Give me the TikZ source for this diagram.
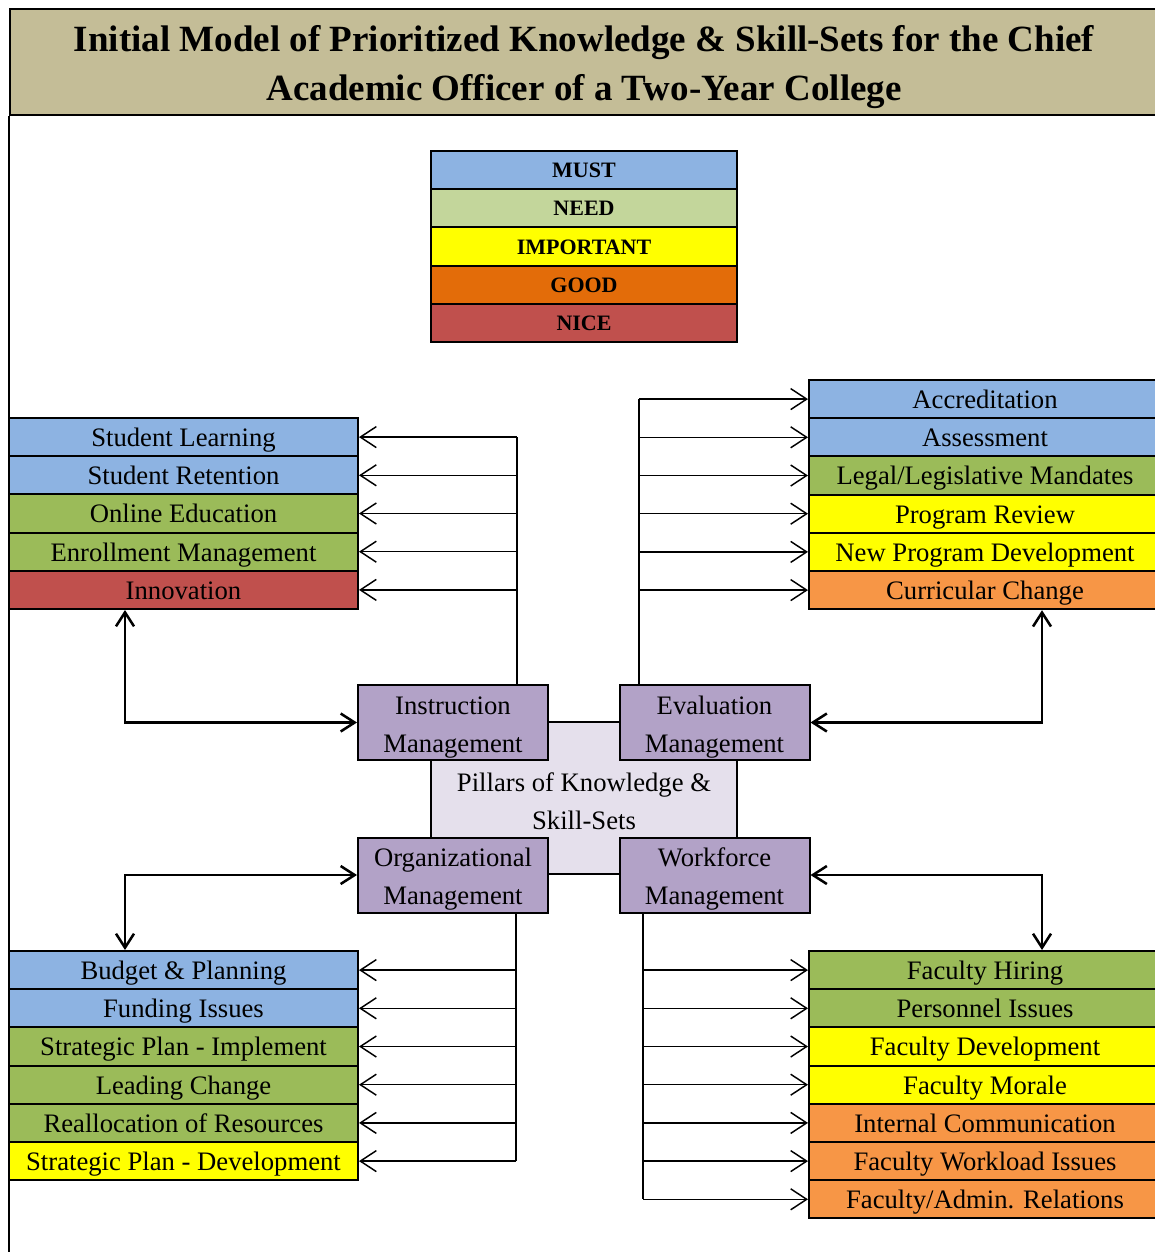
\documentclass[tikz,border=0pt]{standalone}
\usepackage{fontspec}
\setmainfont{Liberation Serif}
\usetikzlibrary{arrows.meta,calc}
\definecolor{cmust}{RGB}{141,179,226}
\definecolor{cneed}{RGB}{195,214,155}
\definecolor{cgreen}{RGB}{155,187,89}
\definecolor{cyel}{RGB}{255,255,0}
\definecolor{cgood}{RGB}{227,108,9}
\definecolor{corange}{RGB}{247,150,70}
\definecolor{cnice}{RGB}{192,80,77}
\definecolor{cpurple}{RGB}{178,162,199}
\definecolor{clav}{RGB}{229,224,236}
\definecolor{ctan}{RGB}{196,189,151}
\newcommand\pstrut{\rule{0pt}{20.5pt}}
\begin{document}
\begin{tikzpicture}[x=0.75pt,y=-0.75pt,
  rowL/.style={draw=black, line width=1.5pt, minimum width=261.75pt, minimum height=28.65pt, inner sep=0pt, text height=15pt, text depth=0.8pt, font=\fontsize{20}{24}\selectfont},
  rowR/.style={rowL, minimum width=264pt},
  leg/.style={draw=black, line width=1.5pt, minimum width=229.5pt, minimum height=28.65pt, inner sep=0pt, text height=12pt, text depth=0.5pt, font=\bfseries\fontsize{16.5}{20}\selectfont},
  pillar/.style={draw=black, fill=cpurple, line width=1.5pt, minimum width=142.5pt, minimum height=56.25pt, inner sep=0pt, align=center, font=\fontsize{20}{28.5}\selectfont},
  trunk/.style={line width=1.1pt},
  arr/.style={line width=1.1pt, -{Straight Barb[length=12pt,width=15.75pt]}},
  darr/.style={line width=1.9pt, {Straight Barb[length=10.5pt,width=13.5pt]}-{Straight Barb[length=10.5pt,width=13.5pt]}}
]
\clip (0,0) rectangle (1155,1252);
% frame and title
\node[draw=black, fill=ctan, line width=1.6pt, minimum width=867pt, minimum height=79.5pt, inner sep=0pt, anchor=north west] (title) at (9,8) {};
\node[align=center, font=\bfseries\fontsize{27.75}{36.75}\selectfont] (titletext) at (584,67) {Initial Model of Prioritized Knowledge \& Skill-Sets for the Chief\\Academic Officer of a Two-Year College};
\draw[line width=1.6pt] (title.south west) -- (9,1252);
% legend
\node[leg, fill=cmust] (lmust) at (584,170.1) {MUST};
\node[leg, fill=cneed] (lneed) at (584,208.3) {NEED};
\node[leg, fill=cyel] (limp) at (584,246.5) {IMPORTANT};
\node[leg, fill=cgood] (lgood) at (584,284.7) {GOOD};
\node[leg, fill=cnice] (lnice) at (584,322.9) {NICE};
% left top
\node[rowL, fill=cmust] (sl) at (183.5,437.1) {Student Learning};
\node[rowL, fill=cmust] (sr) at (183.5,475.3) {Student Retention};
\node[rowL, fill=cgreen] (oe) at (183.5,513.5) {Online Education};
\node[rowL, fill=cgreen] (em) at (183.5,551.7) {Enrollment Management};
\node[rowL, fill=cnice] (inn) at (183.5,589.9) {Innovation};
% right top
\node[rowR, fill=cmust] (acc) at (985,399.1) {Accreditation};
\node[rowR, fill=cmust] (ass) at (985,437.3) {Assessment};
\node[rowR, fill=cgreen] (leg) at (985,475.5) {Legal/Legislative Mandates};
\node[rowR, fill=cyel] (pr) at (985,513.7) {Program Review};
\node[rowR, fill=cyel] (npd) at (985,551.9) {New Program Development};
\node[rowR, fill=corange] (cc) at (985,590.1) {Curricular Change};
% bottom left
\node[rowL, fill=cmust] (bp) at (183.5,970.1) {Budget \& Planning};
\node[rowL, fill=cmust] (fi) at (183.5,1008.3) {Funding Issues};
\node[rowL, fill=cgreen] (spi) at (183.5,1046.5) {Strategic Plan - Implement};
\node[rowL, fill=cgreen] (lc) at (183.5,1084.7) {Leading Change};
\node[rowL, fill=cgreen] (rr) at (183.5,1122.9) {Reallocation of Resources};
\node[rowL, fill=cyel] (spd) at (183.5,1161.1) {Strategic Plan - Development};
% bottom right
\node[rowR, fill=cgreen] (fh) at (985,970.1) {Faculty Hiring};
\node[rowR, fill=cgreen] (pi) at (985,1008.3) {Personnel Issues};
\node[rowR, fill=cyel] (fd) at (985,1046.5) {Faculty Development};
\node[rowR, fill=cyel] (fm) at (985,1084.7) {Faculty Morale};
\node[rowR, fill=corange] (ic) at (985,1122.9) {Internal Communication};
\node[rowR, fill=corange] (fw) at (985,1161.1) {Faculty Workload Issues};
\node[rowR, fill=corange] (far) at (985,1199.3) {Faculty/Admin. Relations};
% center
\node[draw=black, fill=clav, line width=1.5pt, minimum width=229.5pt, minimum height=114pt, inner sep=0pt] (pil) at (584,798) {};
\node[align=center, font=\fontsize{20}{28.5}\selectfont] (piltext) at (584,801) {Pillars of Knowledge \&\\Skill-Sets};
\node[pillar] (instr) at (453,722.5) {\pstrut Instruction\\Management};
\node[pillar] (eval) at (714.5,722.5) {\pstrut Evaluation\\Management};
\node[pillar] (org) at (453,875) {\pstrut Organizational\\Management};
\node[pillar] (wf) at (714.5,875) {\pstrut Workforce\\Management};
% trunks
\coordinate (tI) at (517,0);
\coordinate (tE) at (639,0);
\coordinate (tO) at (516,0);
\coordinate (tW) at (643,0);
\draw[trunk] (instr.north -| tI) -- (tI |- sl.east);
\foreach \n in {sl,sr,oe,em,inn} \draw[arr] (tI |- \n.east) -- (\n.east);
\draw[trunk] (eval.north -| tE) -- (tE |- acc.west);
\foreach \n in {acc,ass,leg,pr,npd,cc} \draw[arr] (tE |- \n.west) -- (\n.west);
\draw[trunk] (org.south -| tO) -- (tO |- spd.east);
\foreach \n in {bp,fi,spi,lc,rr,spd} \draw[arr] (tO |- \n.east) -- (\n.east);
\draw[trunk] (wf.south -| tW) -- (tW |- far.west);
\foreach \n in {fh,pi,fd,fm,ic,fw,far} \draw[arr] (tW |- \n.west) -- (\n.west);
% double arrows
\coordinate (cI) at (125,722.5);
\coordinate (cE) at (1042,722.5);
\coordinate (cO) at (125,875);
\coordinate (cW) at (1042,875);
\draw[darr] (instr.west) -- (cI) -- (cI |- inn.south);
\draw[darr] (eval.east) -- (cE) -- (cE |- cc.south);
\draw[darr] (org.west) -- (cO) -- (cO |- bp.north);
\draw[darr] (wf.east) -- (cW) -- (cW |- fh.north);
\end{tikzpicture}
\end{document}
